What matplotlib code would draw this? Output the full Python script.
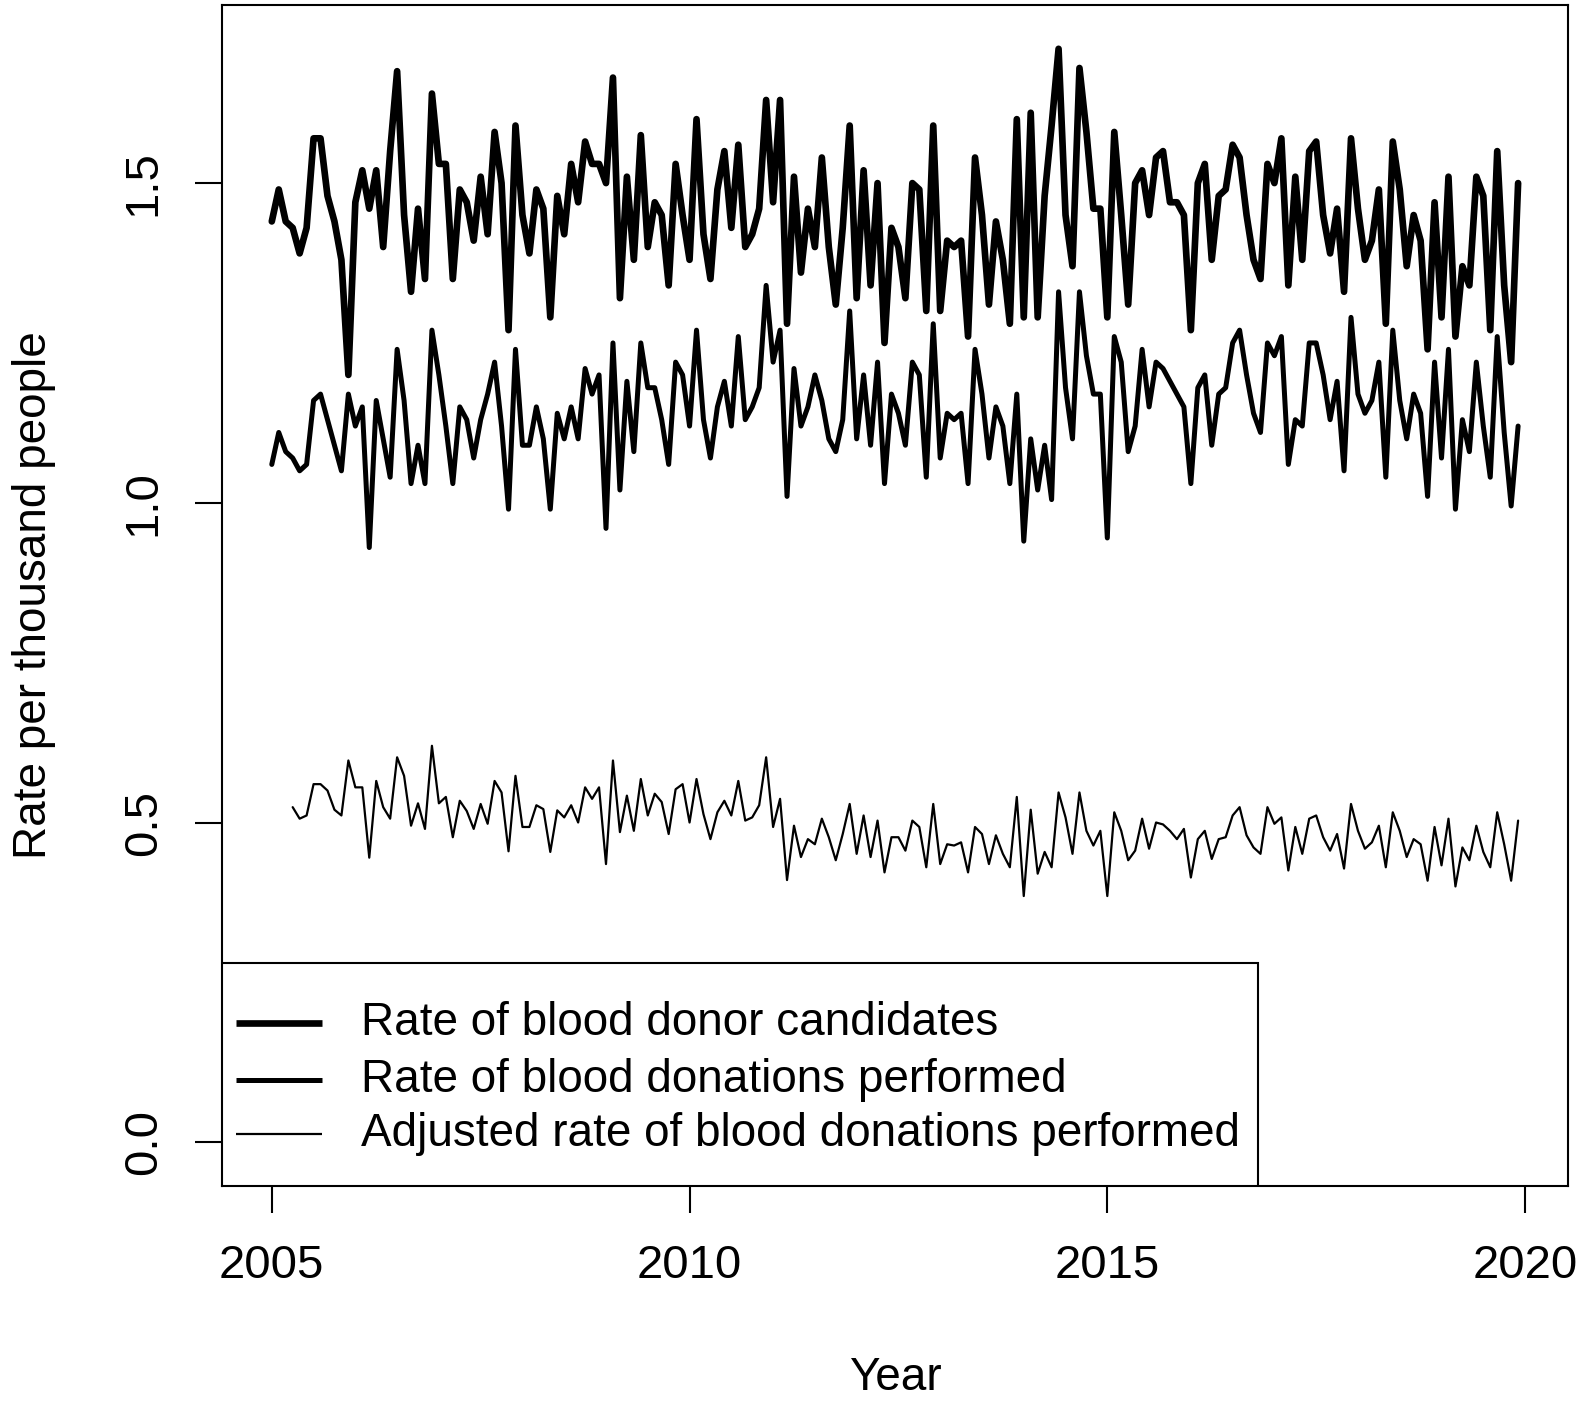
import numpy as np
import matplotlib
matplotlib.use("Agg")
import matplotlib.pyplot as plt
from matplotlib.patches import Rectangle

# monthly series, January 2005 .. December 2019
start_year = 2005
freq = 12

candidates = [
    1.44, 1.49, 1.44, 1.43, 1.39, 1.43, 1.57, 1.57, 1.48, 1.44, 1.38, 1.20,
    1.47, 1.52, 1.46, 1.52, 1.40, 1.55, 1.675, 1.45, 1.33, 1.46, 1.35, 1.64,
    1.53, 1.53, 1.35, 1.49, 1.47, 1.41, 1.51, 1.42, 1.58, 1.50, 1.27, 1.59,
    1.45, 1.39, 1.49, 1.46, 1.29, 1.48, 1.42, 1.53, 1.47, 1.565, 1.53, 1.53,
    1.50, 1.665, 1.32, 1.51, 1.38, 1.575, 1.40, 1.47, 1.45, 1.34, 1.53, 1.45,
    1.38, 1.60, 1.42, 1.35, 1.49, 1.55, 1.43, 1.56, 1.40, 1.42, 1.46, 1.63,
    1.47, 1.63, 1.28, 1.51, 1.36, 1.46, 1.40, 1.54, 1.40, 1.31, 1.43, 1.59,
    1.32, 1.52, 1.34, 1.50, 1.25, 1.43, 1.40, 1.32, 1.50, 1.49, 1.30, 1.59,
    1.30, 1.41, 1.40, 1.41, 1.26, 1.54, 1.45, 1.31, 1.44, 1.38, 1.28, 1.60,
    1.29, 1.61, 1.29, 1.48, 1.59, 1.71, 1.45, 1.37, 1.68, 1.58, 1.46, 1.46,
    1.29, 1.58, 1.45, 1.31, 1.50, 1.52, 1.45, 1.54, 1.55, 1.47, 1.47, 1.45,
    1.27, 1.50, 1.53, 1.38, 1.48, 1.49, 1.56, 1.54, 1.45, 1.38, 1.35, 1.53,
    1.50, 1.57, 1.34, 1.51, 1.38, 1.55, 1.565, 1.45, 1.39, 1.46, 1.33, 1.57,
    1.46, 1.38, 1.41, 1.49, 1.28, 1.565, 1.49, 1.37, 1.45, 1.41, 1.24, 1.47,
    1.29, 1.51, 1.26, 1.37, 1.34, 1.51, 1.48, 1.27, 1.55, 1.34, 1.22, 1.50,
]

donations = [
    1.06, 1.11, 1.08, 1.07, 1.05, 1.06, 1.16, 1.17, 1.13, 1.09, 1.05, 1.17,
    1.12, 1.15, 0.93, 1.16, 1.10, 1.04, 1.24, 1.16, 1.03, 1.09, 1.03, 1.27,
    1.20, 1.12, 1.03, 1.15, 1.13, 1.07, 1.13, 1.17, 1.22, 1.12, 0.99, 1.24,
    1.09, 1.09, 1.15, 1.10, 0.99, 1.14, 1.10, 1.15, 1.10, 1.21, 1.17, 1.20,
    0.96, 1.25, 1.02, 1.19, 1.08, 1.25, 1.18, 1.18, 1.13, 1.06, 1.22, 1.20,
    1.12, 1.27, 1.13, 1.07, 1.15, 1.19, 1.12, 1.26, 1.13, 1.15, 1.18, 1.34,
    1.22, 1.27, 1.01, 1.21, 1.12, 1.15, 1.20, 1.16, 1.10, 1.08, 1.13, 1.30,
    1.10, 1.20, 1.09, 1.22, 1.03, 1.17, 1.14, 1.09, 1.22, 1.20, 1.04, 1.28,
    1.07, 1.14, 1.13, 1.14, 1.03, 1.24, 1.17, 1.07, 1.15, 1.12, 1.03, 1.17,
    0.94, 1.10, 1.02, 1.09, 1.005, 1.33, 1.18, 1.10, 1.33, 1.23, 1.17, 1.17,
    0.945, 1.26, 1.22, 1.08, 1.12, 1.24, 1.15, 1.22, 1.21, 1.19, 1.17, 1.15,
    1.03, 1.18, 1.20, 1.09, 1.17, 1.18, 1.25, 1.27, 1.20, 1.14, 1.11, 1.25,
    1.23, 1.26, 1.06, 1.13, 1.12, 1.25, 1.25, 1.20, 1.13, 1.19, 1.05, 1.29,
    1.17, 1.14, 1.16, 1.22, 1.04, 1.27, 1.16, 1.10, 1.17, 1.14, 1.01, 1.22,
    1.07, 1.24, 0.99, 1.13, 1.08, 1.22, 1.12, 1.04, 1.26, 1.11, 0.995, 1.12,
]

# adjusted series starts in April 2005
adjusted_start = 3
adjusted = [
    0.524, 0.506, 0.511, 0.56, 0.56, 0.55, 0.52, 0.511, 0.597,
    0.555, 0.555, 0.445, 0.565, 0.524, 0.506, 0.602, 0.573, 0.495, 0.53, 0.49, 0.62,
    0.53, 0.54, 0.477, 0.534, 0.518, 0.49, 0.529, 0.498, 0.565, 0.547, 0.455, 0.573,
    0.493, 0.493, 0.527, 0.521, 0.454, 0.519, 0.508, 0.527, 0.50, 0.555, 0.537, 0.555,
    0.435, 0.597, 0.485, 0.542, 0.487, 0.568, 0.511, 0.545, 0.532, 0.482, 0.552, 0.56,
    0.50, 0.568, 0.513, 0.474, 0.516, 0.534, 0.511, 0.565, 0.503, 0.508, 0.527, 0.602,
    0.493, 0.537, 0.41, 0.495, 0.446, 0.474, 0.466, 0.506, 0.477, 0.441, 0.482, 0.529,
    0.451, 0.511, 0.446, 0.503, 0.422, 0.477, 0.477, 0.456, 0.503, 0.493, 0.430, 0.529,
    0.435, 0.466, 0.464, 0.469, 0.422, 0.493, 0.482, 0.435, 0.480, 0.451, 0.430, 0.54,
    0.385, 0.52, 0.42, 0.454, 0.430, 0.547, 0.508, 0.451, 0.547, 0.487, 0.464, 0.487,
    0.385, 0.516, 0.487, 0.441, 0.456, 0.506, 0.459, 0.50, 0.497, 0.487, 0.474, 0.49,
    0.414, 0.474, 0.487, 0.443, 0.474, 0.477, 0.511, 0.524, 0.48, 0.461, 0.451, 0.524,
    0.498, 0.508, 0.425, 0.493, 0.451, 0.506, 0.511, 0.477, 0.456, 0.482, 0.428, 0.529,
    0.487, 0.459, 0.469, 0.495, 0.430, 0.516, 0.487, 0.446, 0.474, 0.466, 0.409, 0.493,
    0.433, 0.506, 0.40, 0.461, 0.441, 0.495, 0.454, 0.430, 0.516, 0.466, 0.409, 0.503,
]

labels = ["Rate of blood donor candidates",
          "Rate of blood donations performed",
          "Adjusted rate of blood donations performed"]
widths = [4.8, 3.6, 1.6]

x_ticks = [2005, 2010, 2015, 2020]
y_ticks = [0.0, 0.5, 1.0, 1.5]

plt.rcParams['font.family'] = ['Liberation Sans', 'DejaVu Sans']

t_main = start_year + np.arange(len(candidates)) / freq
t_adj = start_year + (adjusted_start + np.arange(len(adjusted))) / freq

fig = plt.figure(figsize=(15.83, 14.08), dpi=100)
ax = fig.add_axes([0.1402, 0.1577, 0.8503, 0.8387])

style = dict(color="black", solid_capstyle="round", solid_joinstyle="round")
ax.plot(t_main, candidates, lw=widths[0], **style)
ax.plot(t_main, donations, lw=widths[1], **style)
ax.plot(t_adj, adjusted, lw=widths[2], **style)

# R style axis ranges (4% padding)
x0, x1 = t_main[0], t_main[-1]
dx = 0.04 * (x1 - x0)
ax.set_xlim(x0 - dx, x1 + dx)
ymax = max(candidates)
ax.set_ylim(-0.04 * ymax, ymax * 1.04)

ax.set_xticks(x_ticks)
ax.set_xticklabels([str(v) for v in x_ticks])
ax.set_yticks(y_ticks)
ax.set_yticklabels(["%.1f" % v for v in y_ticks])
ax.tick_params(axis="both", direction="out", length=19.5, width=1.5,
               labelsize=34, color="black")
ax.tick_params(axis="x", pad=22)
ax.tick_params(axis="y", pad=21)
for lab in ax.get_yticklabels():
    lab.set_rotation(90)
    lab.set_va("center")
for sp in ax.spines.values():
    sp.set_linewidth(1.5)

ax.set_xlabel("Year", fontsize=33)
ax.xaxis.set_label_coords(0.5, -0.144)
ax.set_ylabel("Rate per thousand people", fontsize=33)
ax.yaxis.set_label_coords(-0.1233, 0.5)

# legend box, bottom left like R legend("bottomleft")
ax.add_patch(Rectangle((0, 0), 0.770, 0.189, transform=ax.transAxes,
                       facecolor="white", edgecolor="black", lw=1.5, zorder=5))
rows = [0.138, 0.0898, 0.044]
for lab, lw, yy in zip(labels, widths, rows):
    ax.plot([0.0104, 0.0743], [yy, yy], transform=ax.transAxes, lw=lw,
            color="black", solid_capstyle="butt", zorder=6)
    ax.text(0.1033, yy, lab, transform=ax.transAxes, fontsize=33,
            va="center", ha="left", zorder=6)

fig.savefig("out.png", dpi=100)
